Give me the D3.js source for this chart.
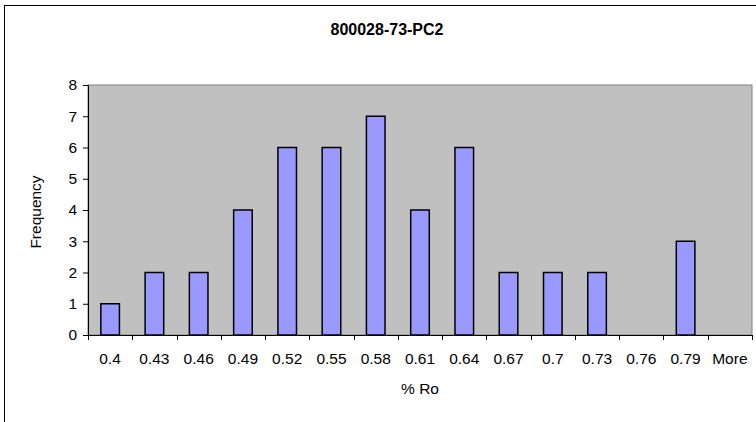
<!DOCTYPE html>
<html>
<head>
<meta charset="utf-8">
<script src="https://cdn.jsdelivr.net/npm/d3@7"></script>
<style>
  html, body { margin: 0; padding: 0; background: #fff; }
  svg { display: block; font-family: "Liberation Sans", Arial, sans-serif; }
</style>
</head>
<body>
<svg id="chart" width="756" height="422"></svg>
<script>
// Histogram bins (% Ro) and their frequencies
const categories = ["0.4", "0.43", "0.46", "0.49", "0.52", "0.55", "0.58", "0.61", "0.64", "0.67", "0.7", "0.73", "0.76", "0.79", "More"];
const frequency = [1, 2, 2, 4, 6, 6, 7, 4, 6, 2, 2, 2, 0, 3, 0];
const yTicks = [0, 1, 2, 3, 4, 5, 6, 7, 8];

const svg = d3.select("#chart");
const plot = { left: 88, right: 752, top: 85, bottom: 335 };
const fontSize = 15.5;

// Chart area frame
svg.append("rect")
  .attr("x", 4.5).attr("y", 5.5)
  .attr("width", 800).attr("height", 500)
  .attr("fill", "#fff").attr("stroke", "#000").attr("stroke-width", 1);

// Plot area
svg.append("rect")
  .attr("x", plot.left).attr("y", plot.top)
  .attr("width", plot.right - plot.left).attr("height", plot.bottom - plot.top)
  .attr("fill", "#C0C0C0").attr("stroke", "#808080").attr("stroke-width", 1);

const x = d3.scaleBand().domain(categories).range([plot.left, plot.right]).paddingInner(0.58).paddingOuter(0.29);
const xTicks = d3.scaleBand().domain(categories).range([plot.left, plot.right]);
const y = d3.scaleLinear().domain([0, 8]).range([plot.bottom, plot.top]);

// Bars
svg.append("g").selectAll("rect")
  .data(frequency)
  .join("rect")
  .attr("x", (d, i) => x(categories[i]))
  .attr("y", d => y(d))
  .attr("width", x.bandwidth())
  .attr("height", d => y(0) - y(d))
  .attr("fill", "#9999FF")
  .attr("stroke", "#000")
  .attr("stroke-width", 1.5);

// Y axis
const yAxis = d3.axisLeft(y).tickValues(yTicks).tickSize(5).tickPadding(6).tickFormat(d3.format("d"));
const gy = svg.append("g").attr("transform", `translate(${plot.left},0)`).call(yAxis);
gy.select(".domain").attr("stroke", "#000");
gy.selectAll(".tick line").attr("stroke", "#000");
gy.selectAll(".tick text").attr("font-size", fontSize).attr("fill", "#000").attr("font-family", "Liberation Sans, Arial, sans-serif");

// X axis: ticks sit on the category boundaries
const gx = svg.append("g").attr("transform", `translate(0,${plot.bottom})`);
gx.append("line")
  .attr("x1", plot.left - 5).attr("x2", plot.right)
  .attr("y1", 0.5).attr("y2", 0.5)
  .attr("stroke", "#000");
const boundaries = categories.map(c => xTicks(c)).concat([plot.right]);
gx.selectAll("line.tick")
  .data(boundaries)
  .join("line")
  .attr("class", "tick")
  .attr("x1", d => Math.round(d) + 0.5).attr("x2", d => Math.round(d) + 0.5)
  .attr("y1", 0).attr("y2", 5)
  .attr("stroke", "#000");
gx.selectAll("text")
  .data(categories)
  .join("text")
  .attr("x", d => xTicks(d) + xTicks.bandwidth() / 2)
  .attr("y", 29)
  .attr("text-anchor", "middle")
  .attr("font-size", fontSize)
  .attr("fill", "#000")
  .text(d => d);

// Title and axis titles
svg.append("text")
  .attr("x", 387).attr("y", 35)
  .attr("text-anchor", "middle")
  .attr("font-size", 16).attr("font-weight", "bold")
  .text("800028-73-PC2");

svg.append("text")
  .attr("x", (plot.left + plot.right) / 2).attr("y", 394)
  .attr("text-anchor", "middle")
  .attr("font-size", fontSize)
  .text("% Ro");

svg.append("text")
  .attr("transform", `translate(41,${(plot.top + plot.bottom) / 2 + 2}) rotate(-90)`)
  .attr("text-anchor", "middle")
  .attr("font-size", fontSize)
  .text("Frequency");
</script>
</body>
</html>
